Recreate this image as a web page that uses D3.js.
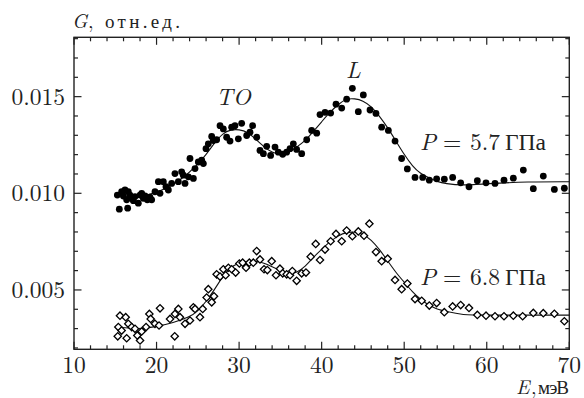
<!DOCTYPE html>
<html>
<head>
<meta charset="utf-8">
<script src="https://cdn.jsdelivr.net/npm/d3@7"></script>
<style>
  body { margin: 0; background: #fff; }
</style>
</head>
<body>
<div id="chart"></div>
<script>
// measured points, P = 5.7 GPa (E in meV, G in arb. units)
const pts57 = [
  [15.25,0.00991],[15.49,0.00918],[15.77,0.01008],[15.98,0.00986],[16.18,0.01017],[16.38,0.00966],
  [16.50,0.00923],[16.58,0.01008],[16.78,0.00991],[16.99,0.00974],[17.19,0.00962],[17.39,0.00983],
  [17.79,0.00949],[18.0,0.00991],[18.2,0.0100],[18.4,0.00974],[18.6,0.00986],[18.88,0.00966],
  [19.21,0.0098],[19.41,0.00966],[19.81,0.01008],[20.22,0.0106],[20.42,0.0100],[20.82,0.0106],
  [21.14,0.01034],[21.43,0.01017],[21.83,0.01051],[22.23,0.01102],[22.64,0.0106],[23.04,0.01111],
  [23.24,0.01094],[23.45,0.01051],[23.85,0.01085],[24.05,0.0118],[24.46,0.01077],[24.66,0.01128],
  [25.06,0.01162],[25.47,0.01171],[25.67,0.01154],[25.99,0.01231],[26.27,0.01256],[26.68,0.01294],
  [26.88,0.01273],[27.28,0.01277],[27.69,0.0135],[28.09,0.01333],[28.49,0.0129],[28.9,0.0127],
  [29.1,0.01342],[29.5,0.0135],[29.91,0.01282],[30.31,0.01362],[30.92,0.01299],[31.32,0.01316],
  [31.64,0.0135],[32.13,0.0129],[32.53,0.01222],[32.94,0.01205],[33.34,0.01243],[33.82,0.01196],
  [34.35,0.01239],[34.75,0.01213],[35.28,0.01202],[35.76,0.01213],[36.17,0.01231],[36.57,0.01256],
  [36.97,0.01227],[37.58,0.01205],[38.19,0.01277],[38.79,0.01325],[39.4,0.01311],[39.8,0.01407],
  [40.41,0.01419],[41.09,0.01415],[41.74,0.01461],[42.43,0.01441],[43.03,0.01487],[43.72,0.01543],
  [44.44,0.01422],[45.05,0.01509],[45.86,0.01431],[46.58,0.01413],[47.27,0.01342],[48.08,0.01325],
  [48.89,0.0127],[49.69,0.0118],[50.38,0.01126],[51.31,0.01082],[52.24,0.01082],[53.04,0.01068],
  [53.93,0.01075],[54.86,0.01073],[55.87,0.01082],[56.84,0.01054],[57.85,0.01034],[58.86,0.01065],
  [59.91,0.01054],[61.0,0.01051],[62.09,0.01068],[63.22,0.01078],[64.43,0.0112],[65.64,0.01024],
  [66.85,0.01089],[68.19,0.0102],[69.4,0.01026]
];

// measured points, P = 6.8 GPa
const pts68 = [
  [15.3,0.0026],[15.37,0.00308],[15.57,0.00367],[15.77,0.0029],[16.26,0.00359],[16.38,0.0025],
  [16.58,0.00325],[16.99,0.00308],[17.39,0.00299],[17.67,0.00265],[18.0,0.00239],[18.2,0.00285],
  [18.73,0.00308],[19.13,0.00376],[19.29,0.0035],[19.81,0.00325],[20.3,0.00316],[20.42,0.00405],
  [21.63,0.0035],[22.2,0.0026],[22.23,0.00376],[22.64,0.00402],[22.84,0.00359],[23.45,0.00325],
  [24.05,0.00342],[24.46,0.0041],[24.66,0.00402],[25.26,0.00359],[25.59,0.00402],[26.07,0.00461],
  [26.27,0.00504],[26.68,0.00436],[26.96,0.00467],[27.28,0.00581],[27.69,0.00569],[28.09,0.00607],
  [28.37,0.00576],[28.7,0.00615],[29.1,0.00607],[29.58,0.0059],[30.03,0.00637],[30.43,0.00641],
  [30.84,0.00615],[31.24,0.00641],[31.72,0.00641],[32.13,0.00701],[32.53,0.00658],[33.02,0.00607],
  [33.42,0.00603],[33.95,0.00649],[34.47,0.00576],[34.95,0.0061],[35.28,0.00586],[35.76,0.00581],
  [36.17,0.00576],[36.45,0.00598],[36.97,0.00547],[37.58,0.00586],[38.1,0.0059],[38.67,0.00672],
  [39.28,0.00738],[39.8,0.00655],[40.41,0.00709],[41.09,0.00752],[41.74,0.0079],[42.43,0.00752],
  [43.03,0.00807],[43.72,0.00778],[44.44,0.00803],[45.13,0.00781],[45.78,0.00843],[46.58,0.00696],
  [47.27,0.00649],[48.0,0.00662],[48.89,0.00552],[49.69,0.00504],[50.38,0.00533],[51.31,0.00453],
  [52.12,0.00444],[53.04,0.00419],[53.93,0.00432],[54.86,0.00385],[55.87,0.00415],[56.84,0.00422],
  [57.85,0.00407],[58.86,0.00371],[59.91,0.00367],[61.0,0.00364],[62.09,0.00364],[63.22,0.00367],
  [64.35,0.00364],[65.64,0.00381],[66.85,0.0038],[68.19,0.00377],[69.4,0.00338]
];

// fitted curves
const fit57E = [15,17,19,21,23,25,26,27,28,29,30,31,32,33,34,35,36,37,38,39,40,41,42,43,44,45,46,47,48,49,50,51,52,53,54,55,57,60,65,70];
const fit57G = [0.0099,0.0098,0.0099,0.0102,0.0107,0.0115,0.0120,0.0126,0.0131,0.0133,0.0133,0.0132,0.0128,0.0124,0.0121,0.0120,0.0121,0.0124,0.0127,0.0132,0.0137,0.0142,0.0146,0.0149,0.0149,0.0148,0.0145,0.0140,0.0134,0.0127,0.0120,0.0114,0.0110,0.0108,0.0106,0.0105,0.0104,0.0105,0.0106,0.0106];
const fit68E = [15,17,18,20,22,24,25,26,27,28,29,30,31,32,33,34,35,36,37,38,39,40,41,42,43,44,45,46,47,48,49,50,51,52,53,54,55,57,60,65,70];
const fit68G = [0.0031,0.0030,0.0030,0.0031,0.0033,0.0036,0.0039,0.0044,0.0050,0.0057,0.0062,0.0064,0.0065,0.0065,0.0064,0.0062,0.0060,0.0058,0.0059,0.0062,0.0067,0.0071,0.0075,0.0078,0.0080,0.0080,0.0079,0.0076,0.0071,0.0065,0.0059,0.0054,0.0049,0.0045,0.0042,0.0040,0.0039,0.0037,0.0037,0.0037,0.0037];

const xMajor = [10,20,30,40,50,60,70];
const xMinor = d3.range(10, 70.01, 2);
const yMajor = [0.005,0.010,0.015];
const yMajorLabels = ["0.005","0.010","0.015"];
const yMinor = d3.range(2, 18.01, 1).map(d => d / 1000);

// Latin Modern has no Cyrillic, so Cyrillic words are separate texts in Liberation Serif
const FONT = "'Latin Modern Roman', 'Liberation Serif', serif";
const CYR = "'Liberation Serif'";
const width = 584, height = 398;
const x = d3.scaleLinear().domain([10, 70]).range([74, 569.3]);
const y = d3.scaleLinear().domain([0.00193, 0.01807]).range([349.3, 37.3]);

const svg = d3.select('#chart').append('svg')
  .attr('width', width)
  .attr('height', height);

function label(px, py, size, str, opts = {}) {
  return svg.append('text')
    .attr('x', px).attr('y', py)
    .attr('fill', '#222')
    .attr('font-family', opts.cyr ? CYR : FONT)
    .style('font-family', opts.cyr ? CYR : FONT)
    .style('font-size', size + 'px')
    .style('font-style', opts.italic ? 'italic' : 'normal')
    .attr('text-anchor', opts.anchor || 'start')
    .text(str);
}

// frame
const x0 = x.range()[0], x1 = x.range()[1];
const y0 = y.range()[0], y1 = y.range()[1];
svg.append('rect')
  .attr('x', x0).attr('y', y1)
  .attr('width', x1 - x0).attr('height', y0 - y1)
  .attr('fill', 'none').attr('stroke', '#222').attr('stroke-width', 1.4);

// inward ticks on all four sides
const ticks = svg.append('g').attr('stroke', '#222').attr('stroke-width', 1.2);
xMinor.forEach(v => {
  const len = xMajor.includes(Math.round(v)) ? 7.5 : 4;
  ticks.append('line').attr('x1', x(v)).attr('x2', x(v)).attr('y1', y0).attr('y2', y0 - len);
  ticks.append('line').attr('x1', x(v)).attr('x2', x(v)).attr('y1', y1).attr('y2', y1 + len);
});
yMinor.forEach(v => {
  const len = yMajor.some(m => Math.abs(m - v) < 1e-9) ? 7.5 : 4;
  ticks.append('line').attr('y1', y(v)).attr('y2', y(v)).attr('x1', x0).attr('x2', x0 + len);
  ticks.append('line').attr('y1', y(v)).attr('y2', y(v)).attr('x1', x1).attr('x2', x1 - len);
});

// tick labels
xMajor.forEach(d => label(x(d), 373, 23.5, d, { anchor: 'middle' }));
yMajor.forEach((d, i) => label(65, y(d) + 8, 23.5, yMajorLabels[i], { anchor: 'end' }));

// axis titles
label(72, 28, 20, 'G', { italic: true });
label(88, 28, 20, ',');
label(105, 28, 19, 'отн.ед.', { cyr: true }).attr('textLength', 75).attr('lengthAdjust', 'spacing');

label(516, 393.5, 20, 'E', { italic: true });
label(531, 393.5, 20, ',');
label(538, 393.5, 19, 'мэВ', { cyr: true }).attr('textLength', 31).attr('lengthAdjust', 'spacing');

// fit lines
const line = d3.line()
  .x(d => x(d[0])).y(d => y(d[1]))
  .curve(d3.curveBasis);

svg.append('path')
  .datum(fit57E.map((e, i) => [e, fit57G[i]]))
  .attr('d', line)
  .attr('fill', 'none').attr('stroke', '#111').attr('stroke-width', 1.1);

svg.append('path')
  .datum(fit68E.map((e, i) => [e, fit68G[i]]))
  .attr('d', line)
  .attr('fill', 'none').attr('stroke', '#111').attr('stroke-width', 1.1);

// filled circles
svg.append('g').selectAll('circle').data(pts57).enter().append('circle')
  .attr('cx', d => x(d[0])).attr('cy', d => y(d[1]))
  .attr('r', 3.4)
  .attr('fill', '#000');

// open diamonds
const diamond = d3.symbol(d3.symbolSquare).size(27);
svg.append('g').selectAll('path').data(pts68).enter().append('path')
  .attr('d', diamond)
  .attr('transform', d => `translate(${x(d[0])},${y(d[1])}) rotate(45)`)
  .attr('fill', '#fff').attr('stroke', '#000').attr('stroke-width', 1.3);

// annotations
label(216, 105, 23.5, 'TO', { italic: true });
label(346, 78, 23.5, 'L', { italic: true });

function pressure(yb, val) {
  label(420, yb, 23.5, 'P', { italic: true });
  label(443, yb, 23.5, '=');
  label(470, yb, 23.5, val);
  label(505, yb, 23.5, 'ГПа', { cyr: true });
}
pressure(150, '5.7');
pressure(285, '6.8');
</script>
</body>
</html>
